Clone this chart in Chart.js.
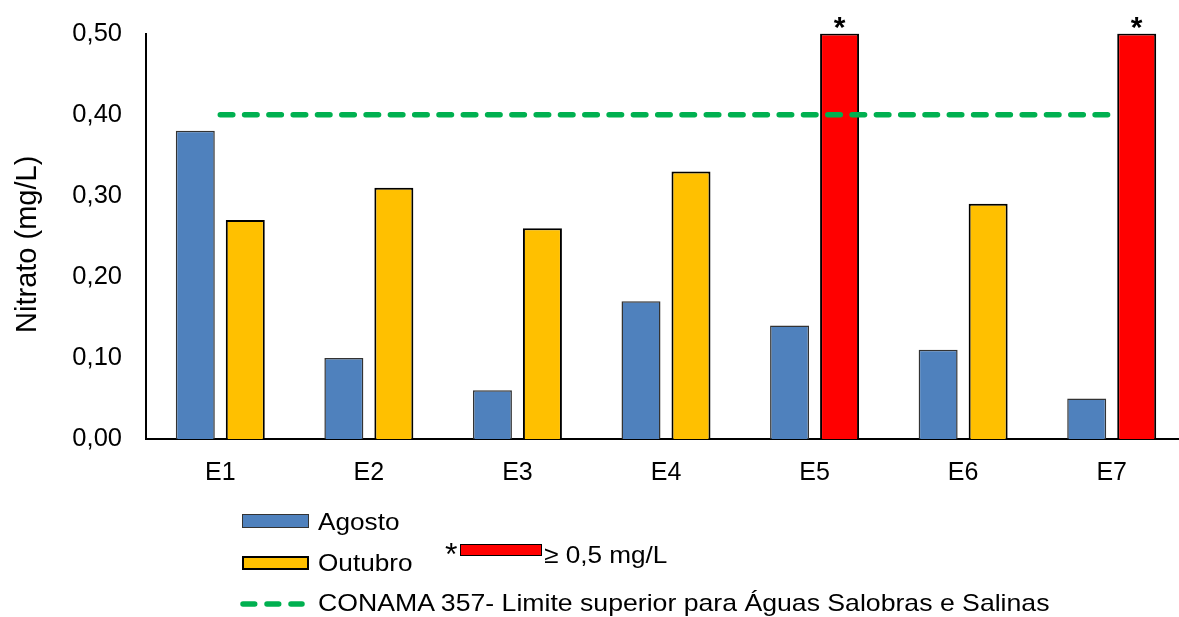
<!DOCTYPE html>
<html>
<head>
<meta charset="utf-8">
<script src="https://cdn.jsdelivr.net/npm/chart.js@4"></script>
<style>
  html, body { margin: 0; padding: 0; background: #fff; overflow: hidden; }
  #wrap { position: relative; width: 1186px; height: 617px; }
  .lg { position: absolute; font-family: "Liberation Sans", Arial, sans-serif; font-size: 24px; line-height: 24px; color: #000; white-space: nowrap; transform: scaleX(1.09); transform-origin: left top; }
  .sw { position: absolute; box-sizing: border-box; }
</style>
</head>
<body>
<div id="wrap">
  <canvas id="myChart" width="1186" height="617"></canvas>

  <div class="sw" style="left:242px;top:514px;width:67px;height:14px;background:#4F81BD;border:1.5px solid #333;"></div>
  <div class="lg" style="left:318px;top:510px;">Agosto</div>

  <div class="sw" style="left:242px;top:556px;width:67px;height:14px;background:#FFC000;border:2px solid #000;"></div>
  <div class="lg" style="left:318px;top:551px;">Outubro</div>

  <div class="lg" style="left:445px;top:538px;font-size:32px;line-height:32px;transform:none;">*</div>
  <div class="sw" style="left:460px;top:544px;width:82px;height:12px;background:#FF0000;border:1.5px solid #000;"></div>
  <div class="lg" style="left:544px;top:543px;">≥ 0,5 mg/L</div>

  <svg style="position:absolute;left:0;top:0;" width="320" height="617">
    <line x1="243" y1="604" x2="302" y2="604" stroke="#00B050" stroke-width="5.5" stroke-linecap="round" stroke-dasharray="11.7 12.3"/>
  </svg>
  <div class="lg" style="left:318px;top:591px;transform:scaleX(1.11);">CONAMA 357- Limite superior para Águas Salobras e Salinas</div>
</div>

<script>
// dados
const estacoes = ['E1', 'E2', 'E3', 'E4', 'E5', 'E6', 'E7'];
const agosto = [0.38, 0.10, 0.06, 0.17, 0.14, 0.11, 0.05];
const outubro = [0.27, 0.31, 0.26, 0.33, 0.50, 0.29, 0.50];
const limiteConama = [0.40, 0.40, 0.40, 0.40, 0.40, 0.40, 0.40];
const yTicks = [0, 0.1, 0.2, 0.3, 0.4, 0.5];

const FONT = '"Liberation Sans", Arial, sans-serif';

// outubro >= 0,5 em vermelho
const corOutubro = outubro.map(v => v >= 0.5 ? '#FF0000' : '#FFC000');

// asterisco sobre as barras >= 0,5
const asteriscos = {
    id: 'asteriscos',
    afterDatasetsDraw(chart) {
        const meta = chart.getDatasetMeta(2);
        const ctx = chart.ctx;
        ctx.save();
        ctx.font = 'bold 30px ' + FONT;
        ctx.fillStyle = '#000';
        ctx.textAlign = 'center';
        ctx.textBaseline = 'alphabetic';
        meta.data.forEach((bar, i) => {
            if (outubro[i] >= 0.5) {
                ctx.fillText('*', bar.x, bar.y + 3);
            }
        });
        ctx.restore();
    }
};

new Chart(document.getElementById('myChart'), {
    data: {
        labels: estacoes,
        datasets: [
            {
                type: 'line',
                label: 'CONAMA 357- Limite superior para Águas Salobras e Salinas',
                data: limiteConama,
                borderColor: '#00B050',
                borderWidth: 5.5,
                borderDash: [12.5, 11.8],
                borderCapStyle: 'round',
                pointRadius: 0,
                fill: false,
                order: 0
            },
            {
                type: 'bar',
                label: 'Agosto',
                data: agosto,
                backgroundColor: '#4F81BD',
                borderColor: '#333',
                borderWidth: 1.5,
                barPercentage: 0.78,
                categoryPercentage: 0.673,
                order: 1
            },
            {
                type: 'bar',
                label: 'Outubro',
                data: outubro,
                backgroundColor: corOutubro,
                borderColor: '#000',
                borderWidth: 2,
                barPercentage: 0.78,
                categoryPercentage: 0.673,
                order: 1
            }
        ]
    },
    options: {
        responsive: false,
        animation: false,
        layout: { padding: { top: 20, right: 0, bottom: 0, left: 0 } },
        plugins: {
            legend: { display: false },
            tooltip: { enabled: false }
        },
        scales: {
            x: {
                grid: { display: false, drawTicks: false },
                border: { display: true, color: '#000', width: 2 },
                ticks: { color: '#000', font: { family: FONT, size: 25 }, padding: 19 },
                afterFit(scale) { scale.height = 178; }
            },
            y: {
                min: 0,
                max: 0.5,
                afterBuildTicks(scale) { scale.ticks = yTicks.map(v => ({ value: v })); },
                grid: { display: false, drawTicks: false },
                border: { display: true, color: '#000', width: 2 },
                ticks: {
                    color: '#000',
                    // lineHeight pequeno: o topo do eixo fica em ~34px
                    font: { family: FONT, size: 25.5, lineHeight: 0.75 },
                    padding: 24,
                    callback: v => v.toFixed(2).replace('.', ',')
                },
                title: {
                    display: true,
                    text: 'Nitrato (mg/L)  ',
                    color: '#000',
                    font: { family: FONT, size: 29 },
                    padding: { top: 11, bottom: 0 }
                },
                afterFit(scale) { scale.width = 146; }
            }
        }
    },
    plugins: [asteriscos]
});
</script>
</body>
</html>
